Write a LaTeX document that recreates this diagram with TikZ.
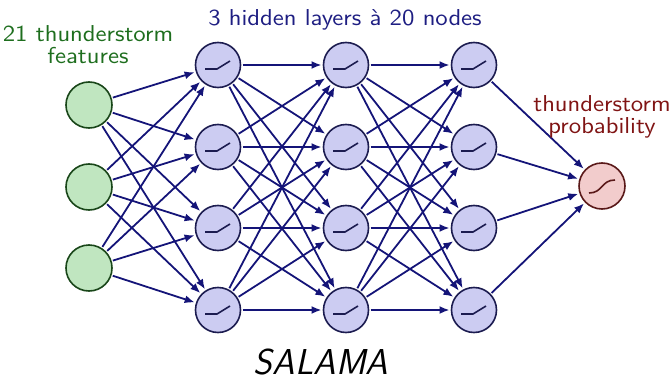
\documentclass[tikz,border=0pt]{standalone}
\usepackage{fontspec}
\usetikzlibrary{arrows.meta}
\definecolor{edgec}{RGB}{20,20,120}
\definecolor{hidf}{RGB}{204,204,242}
\definecolor{hidb}{RGB}{28,28,80}
\definecolor{inf}{RGB}{192,230,192}
\definecolor{inb}{RGB}{25,70,25}
\definecolor{outf}{RGB}{242,204,204}
\definecolor{outb}{RGB}{90,25,25}
\definecolor{greentxt}{RGB}{30,110,30}
\definecolor{navytxt}{RGB}{30,30,130}
\definecolor{redtxt}{RGB}{128,20,20}
\begin{document}
\begin{tikzpicture}[x=0.5pt,y=-0.5pt,
  edge/.style={draw=edgec, line width=0.9pt, -{Latex[length=5pt,width=4pt]}},
  neuron/.style={circle, line width=0.8pt, minimum size=22.5pt, inner sep=0pt, outer sep=1pt},
  hid/.style={neuron, draw=hidb, fill=hidf},
  inp/.style={neuron, draw=inb, fill=inf, minimum size=23pt},
  outn/.style={neuron, draw=outb, fill=outf, minimum size=23pt},
  icon/.style={draw=hidb, line width=0.8pt},
  lbl/.style={font=\sffamily\fontsize{11.5}{11}\selectfont, align=center, inner sep=0pt, xscale=1.1}]
\useasboundingbox (0,0) rectangle (670,380);

% input nodes
\node[inp] (i1) at (89,105) {};
\node[inp] (i2) at (89,187) {};
\node[inp] (i3) at (89,268) {};

% hidden nodes
\foreach \l/\x in {1/218,2/346,3/474}{
  \foreach \j/\y in {1/65,2/147,3/228,4/310}{
    \node[hid] (h\l\j) at (\x,\y) {};
  }
}

% output node
\node[outn] (o) at (602,186) {};

% edges input -> hidden 1
\foreach \i in {1,2,3}{
  \foreach \j in {1,2,3,4}{
    \draw[edge] (i\i) -- (h1\j);
  }
}
% hidden -> hidden
\foreach \a/\b in {1/2,2/3}{
  \foreach \i in {1,2,3,4}{
    \foreach \j in {1,2,3,4}{
      \draw[edge] (h\a\i) -- (h\b\j);
    }
  }
}
% hidden 3 -> output
\foreach \i in {1,2,3,4}{
  \draw[edge] (h3\i) -- (o);
}

% ReLU icons
\foreach \l in {1,2,3}{
  \foreach \j in {1,2,3,4}{
    \draw[icon] ([shift={(-13,4)}]h\l\j.center) -- ++(12,0) -- ++(13,-8);
  }
}
% sigmoid icon
\draw[draw=outb, line width=0.8pt] ([shift={(-13,7)}]o.center)
  .. controls ([shift={(1,7)}]o.center) and ([shift={(-1,-6)}]o.center) .. ([shift={(13,-6)}]o.center);

% labels
\node[lbl, text=greentxt] (tin) at (88,45) {21 thunderstorm\\features};
\node[lbl, text=navytxt] (thid) at (345,20) {3 hidden layers à 20 nodes};
\node[lbl, text=redtxt] (tout) at (602,117) {thunderstorm\\probability};
\node[font=\sffamily\itshape\fontsize{18}{20}\selectfont, inner sep=0pt, anchor=base] (title) at (321,374) {SALAMA};
\end{tikzpicture}
\end{document}
